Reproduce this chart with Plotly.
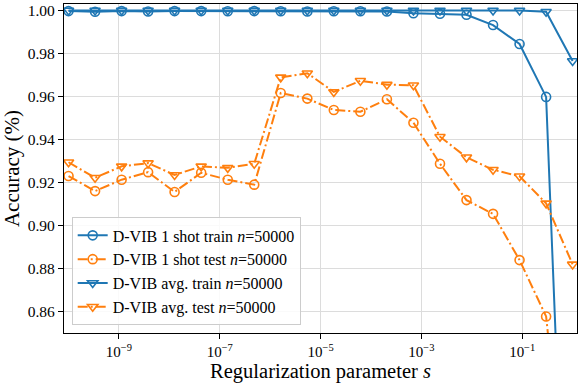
import numpy as np
import plotly.graph_objects as go

# regularization parameter s (20 log-spaced points, 1e-10 .. 1e0)
s_values = [1e-10, 3.36e-10, 1.13e-09, 3.79e-09, 1.27e-08, 4.28e-08, 1.44e-07, 4.83e-07,
            1.62e-06, 5.46e-06, 1.83e-05, 6.16e-05, 2.07e-04, 6.95e-04, 2.34e-03, 7.85e-03,
            2.64e-02, 8.86e-02, 2.98e-01, 1.0]

one_shot_train = [0.9997, 0.9994, 0.9997, 0.9995, 0.9997, 0.9997, 0.9996, 0.9997, 0.9996, 0.9995,
                  0.9996, 0.9996, 0.9995, 0.9987, 0.9985, 0.9980, 0.9932, 0.9844, 0.9598, 0.65]
one_shot_test = [0.9230, 0.9160, 0.9213, 0.9248, 0.9156, 0.9245, 0.9213, 0.9190, 0.9616, 0.9590,
                 0.9537, 0.9529, 0.9587, 0.9478, 0.9287, 0.9118, 0.9054, 0.8839, 0.8577, 0.74]
avg_train = [1.0000, 1.0000, 1.0000, 1.0000, 1.0000, 1.0000, 1.0000, 1.0000, 1.0000, 1.0000,
             1.0000, 1.0000, 1.0000, 1.0000, 1.0000, 1.0000, 1.0000, 1.0000, 0.9994, 0.9765]
avg_test = [0.9294, 0.9222, 0.9275, 0.9290, 0.9235, 0.9275, 0.9268, 0.9287, 0.9689, 0.9708,
            0.9621, 0.9673, 0.9655, 0.9652, 0.9413, 0.9317, 0.9259, 0.9229, 0.9103, 0.8819]

x_ticks = [1e-9, 1e-7, 1e-5, 1e-3, 1e-1]
x_ticktext = ["10<sup>\u22129</sup>", "10<sup>\u22127</sup>", "10<sup>\u22125</sup>",
              "10<sup>\u22123</sup>", "10<sup>\u22121</sup>"]
y_ticks = [0.86, 0.88, 0.90, 0.92, 0.94, 0.96, 0.98, 1.00]

BLUE = "#1f77b4"
ORANGE = "#ff7f0e"
FONT = "Liberation Serif"
DASHDOT = "10px,3px,2px,3px"

series = [
    ("D-VIB 1 shot train <i>n</i>=50000", one_shot_train, BLUE, "solid", "circle-open"),
    ("D-VIB 1 shot test <i>n</i>=50000", one_shot_test, ORANGE, DASHDOT, "circle-open"),
    ("D-VIB avg. train <i>n</i>=50000", avg_train, BLUE, "solid", "triangle-down-open"),
    ("D-VIB avg. test <i>n</i>=50000", avg_test, ORANGE, DASHDOT, "triangle-down-open"),
]

fig = go.Figure()
for name, vals, color, dash, symbol in series:
    fig.add_trace(go.Scatter(
        x=s_values, y=vals, name=name, mode="lines+markers",
        line=dict(color=color, width=2, dash=dash),
        marker=dict(symbol=symbol, size=9, color=color, line=dict(width=1.6, color=color)),
    ))

fig.update_xaxes(
    type="log", range=[-10.09, 0.087],
    tickvals=x_ticks, ticktext=x_ticktext,
    ticks="outside", ticklen=5, tickcolor="black",
    showline=True, linecolor="black", linewidth=1.2, mirror=True,
    showgrid=True, gridcolor="#dcdcdc", gridwidth=1,
    tickfont=dict(family=FONT, size=15, color="black"),
    ticklabeloverflow="allow",
    title=dict(text="Regularization parameter <i>s</i>", font=dict(family=FONT, size=20.5, color="black"),
               standoff=7),
    zeroline=False,
)
fig.update_yaxes(
    range=[0.85, 1.003],
    tickvals=y_ticks, tickformat=".2f",
    ticks="outside", ticklen=5, tickcolor="black",
    showline=True, linecolor="black", linewidth=1.2, mirror=True,
    showgrid=True, gridcolor="#dcdcdc", gridwidth=1,
    tickfont=dict(family=FONT, size=15.5, color="black"),
    ticklabeloverflow="allow",
    title=dict(text="Accuracy (%)", font=dict(family=FONT, size=21, color="black"), standoff=4),
    zeroline=False,
)

fig.update_layout(
    width=583, height=383,
    margin=dict(l=64, r=6, t=2, b=49),
    plot_bgcolor="white", paper_bgcolor="white",
    font=dict(family=FONT, color="black"),
    legend=dict(
        x=0.015, y=0.023, xanchor="left", yanchor="bottom",
        bgcolor="rgba(255,255,255,0.85)", bordercolor="#cccccc", borderwidth=1,
        font=dict(family=FONT, size=16, color="black"),
        tracegroupgap=0, itemwidth=30,
    ),
    showlegend=True,
)

fig.write_html("out.html", config={"displayModeBar": False},
               post_script="document.body.style.margin='0px';")
